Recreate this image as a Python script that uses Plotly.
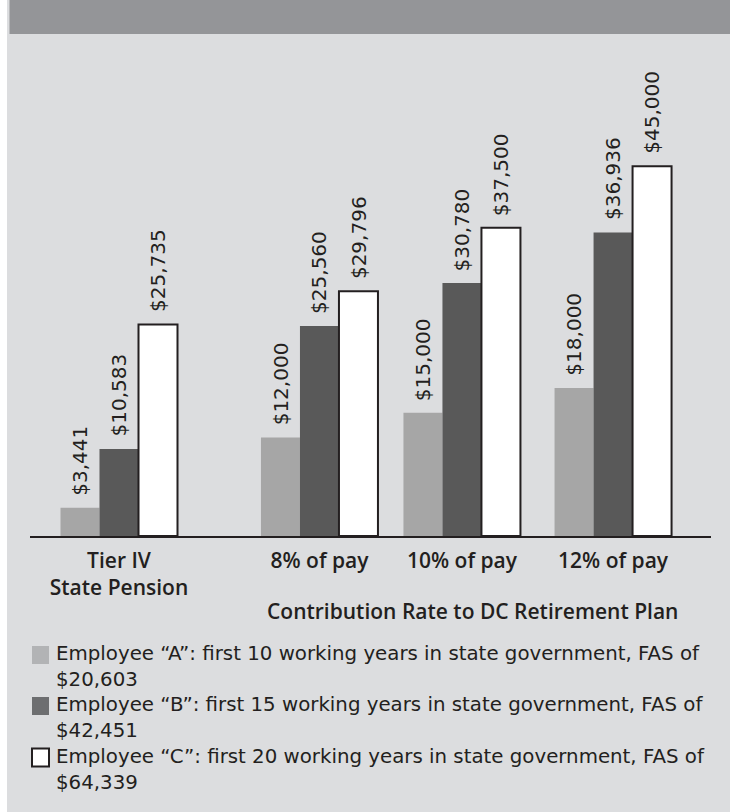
import plotly.graph_objects as go

# ---- data ----
categories = ["Tier IV<br>State Pension", "8% of pay", "10% of pay", "12% of pay"]
legend_lines = [
    ["Employee “A”: first 10 working years in state government, FAS of", "$20,603"],
    ["Employee “B”: first 15 working years in state government, FAS of", "$42,451"],
    ["Employee “C”: first 20 working years in state government, FAS of", "$64,339"],
]
emp_a = [3441, 12000, 15000, 18000]
emp_b = [10583, 25560, 30780, 36936]
emp_c = [25735, 29796, 37500, 45000]
x_title = "Contribution Rate to DC Retirement Plan"

# ---- layout / style ----
W, H = 730, 812
ML, MR, MT, MB = 30, 19, 84, 276
PW, PH = W - ML - MR, H - MT - MB
slots = [0, 1.373, 2.349, 3.384]          # category slot positions on the x axis
unit_px = 146.0
xmin = -(119 - ML) / unit_px
xmax = xmin + PW / unit_px
bar_w = 39 / unit_px
colors = ["#a6a6a6", "#595959", "#ffffff"]
legend_colors = ["#b2b3b5", "#6d6e70", "#ffffff"]
ink = "#231f20"
font_main = "Open Sans"
font_vals = "DejaVu Sans"


def px_x(p):
    return (p - ML) / PW


def px_y(p):
    return (H - MB - p) / PH


fig = go.Figure()
series = [emp_a, emp_b, emp_c]
for i, (vals, col) in enumerate(zip(series, colors)):
    fig.add_trace(go.Bar(
        x=slots, y=vals, name=" ".join(legend_lines[i]),
        width=bar_w, offset=(i - 1.5) * bar_w,
        marker=dict(color=col,
                    line=dict(color=ink, width=2 if i == 2 else 0)),
        showlegend=False,
    ))

annotations = []
for i, vals in enumerate(series):
    for s, v in zip(slots, vals):
        annotations.append(dict(
            x=s + (i - 1) * bar_w, y=v, xref="x", yref="y",
            text=f"${v:,}", showarrow=False, textangle=-90,
            xanchor="center", yanchor="bottom", yshift=10,
            font=dict(family=font_vals, size=20, color=ink),
        ))

# axis title
annotations.append(dict(
    x=px_x(472), y=px_y(611), xref="paper", yref="paper",
    text=x_title, showarrow=False, xanchor="center", yanchor="middle",
    font=dict(family=font_main, size=21, color=ink, weight=600),
))

# manual legend: coloured squares + one text block
shapes = [
    dict(type="rect", xref="paper", yref="paper", layer="below",
         x0=px_x(7), x1=px_x(W), y0=px_y(H), y1=px_y(0),
         fillcolor="#dcdddf", line=dict(width=0)),
    dict(type="rect", xref="paper", yref="paper", layer="below",
         x0=px_x(9.5), x1=px_x(W), y0=px_y(34), y1=px_y(0),
         fillcolor="#949598", line=dict(width=0)),
]
leg_base = [662, 713, 764.5]
for i in range(len(legend_lines)):
    b = leg_base[i]
    shapes.append(dict(
        type="rect", xref="paper", yref="paper",
        x0=px_x(32), x1=px_x(49), y0=px_y(b + 2), y1=px_y(b - 16),
        fillcolor=legend_colors[i],
        line=dict(color=ink, width=2 if i == 2 else 0),
    ))
annotations.append(dict(
    x=px_x(54), y=px_y(640), xref="paper", yref="paper",
    text="<br>".join(l for lines in legend_lines for l in lines),
    showarrow=False, xanchor="left", yanchor="top", align="left",
    font=dict(family="DejaVu Sans", size=19.8, color=ink),
))

fig.update_layout(
    width=W, height=H,
    margin=dict(l=ML, r=MR, t=MT, b=MB, pad=0),
    paper_bgcolor="#ffffff", plot_bgcolor="rgba(0,0,0,0)",
    barmode="overlay",
    xaxis=dict(range=[xmin, xmax], tickvals=slots, ticktext=categories,
               showgrid=False, zeroline=False, showline=True,
               linecolor=ink, linewidth=1.5, ticks="", ticklabelstandoff=5,
               tickfont=dict(family=font_main, size=21, color=ink, weight=600)),
    yaxis=dict(range=[0, 55000], visible=False, showgrid=False, zeroline=False),
    shapes=shapes, annotations=annotations,
    showlegend=False,
)

fig.write_html("out.html", config={"displayModeBar": False},
               post_script="document.body.style.margin='0';")
